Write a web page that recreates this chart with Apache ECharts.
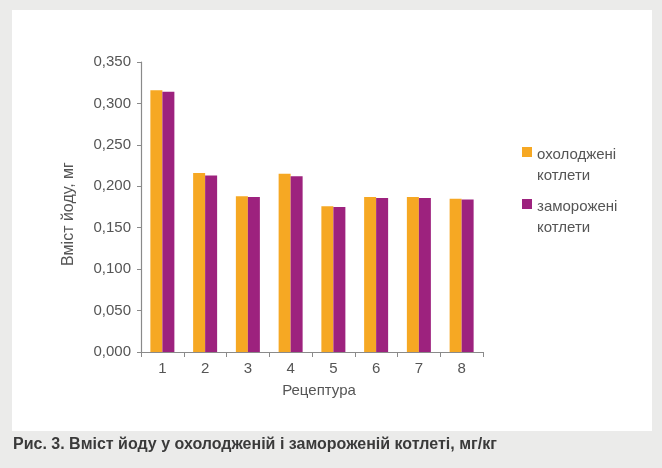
<!DOCTYPE html>
<html>
<head>
<meta charset="utf-8">
<script src="https://cdn.jsdelivr.net/npm/echarts@6/dist/echarts.min.js"></script>
<style>html,body{margin:0;padding:0;background:#ebebea;}#c{width:662px;height:468px;}</style>
</head>
<body>
<div id="c"></div>
<script>
const categories = ['1', '2', '3', '4', '5', '6', '7', '8'];
const chilled = [0.316, 0.216, 0.188, 0.215, 0.176, 0.187, 0.187, 0.185];
const frozen = [0.314, 0.213, 0.187, 0.212, 0.175, 0.186, 0.186, 0.184];
const seriesNames = ['охолоджені котлети', 'заморожені котлети'];
const legendLines = [['охолоджені', 'котлети'], ['заморожені', 'котлети']];
const yTickLabels = ['0,000', '0,050', '0,100', '0,150', '0,200', '0,250', '0,300', '0,350'];
const yAxisTitle = 'Вміст йоду, мг';
const xAxisTitle = 'Рецептура';
const caption = 'Рис. 3. Вміст йоду у охолодженій і замороженій котлеті, мг/кг';

const colors = ['#f6a823', '#9d227e'];
const font = '"Liberation Sans", Arial, sans-serif';

const chart = echarts.init(document.getElementById('c'), null, {renderer: 'canvas'});
chart.setOption({
  backgroundColor: '#ebebea',
  animation: false,
  color: colors,
  grid: {left: 141, right: 179, top: 62, bottom: 116},
  xAxis: {
    type: 'category',
    data: categories,
    boundaryGap: true,
    axisLine: {lineStyle: {color: '#8a8a8a', width: 1.2}},
    axisTick: {show: true, length: 5, lineStyle: {color: '#8a8a8a'}},
    axisLabel: {color: '#555', fontSize: 15, fontFamily: font, margin: 9},
    name: xAxisTitle,
    nameLocation: 'middle',
    nameGap: 31,
    nameTextStyle: {color: '#555', fontSize: 15, fontFamily: font, padding: [0, 0, 0, 14]}
  },
  yAxis: {
    type: 'value',
    min: 0, max: 0.35, interval: 0.05,
    splitLine: {show: false},
    axisLine: {show: true, lineStyle: {color: '#8a8a8a', width: 1.2}},
    axisTick: {show: true, length: 4, lineStyle: {color: '#8a8a8a'}},
    axisLabel: {
      color: '#555', fontSize: 15, fontFamily: font, margin: 10,
      formatter: function (v) { return yTickLabels[Math.round(v / 0.05)]; }
    },
    name: yAxisTitle,
    nameLocation: 'middle',
    nameGap: 64,
    nameRotate: 90,
    nameTextStyle: {color: '#555', fontSize: 16, fontFamily: font, padding: [0, 14, 0, 0]}
  },
  series: [
    {name: seriesNames[0], type: 'bar', data: chilled, barWidth: 12, barGap: '0%', itemStyle: {color: colors[0]}},
    {name: seriesNames[1], type: 'bar', data: frozen, barWidth: 12, barGap: '0%', itemStyle: {color: colors[1]}}
  ],
  graphic: [
    {type: 'rect', z: -10, shape: {x: 12, y: 10, width: 640, height: 421}, style: {fill: '#ffffff'}},
    {type: 'rect', shape: {x: 522, y: 147, width: 10, height: 10}, style: {fill: colors[0]}},
    {type: 'text', x: 537, y: 144, style: {text: legendLines[0].join('\n'), fill: '#555', font: '15px ' + font, lineHeight: 21}},
    {type: 'rect', shape: {x: 522, y: 199, width: 10, height: 10}, style: {fill: colors[1]}},
    {type: 'text', x: 537, y: 196, style: {text: legendLines[1].join('\n'), fill: '#555', font: '15px ' + font, lineHeight: 21}},
    {type: 'text', x: 13, y: 437, style: {text: caption, fill: '#3a3a3a', font: 'bold 16px ' + font}}
  ]
});
</script>
</body>
</html>
